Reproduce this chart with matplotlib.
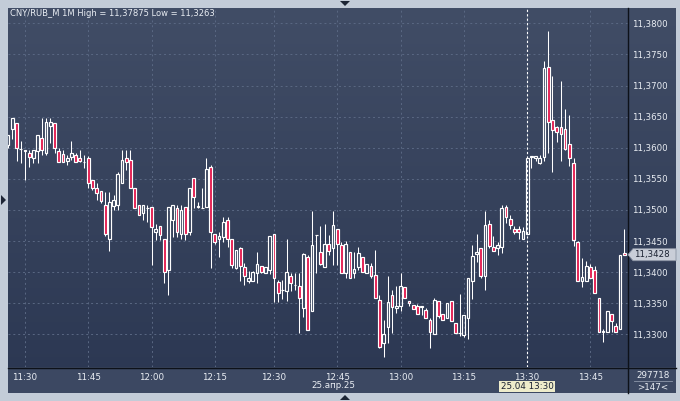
import numpy as np
import matplotlib.pyplot as plt
from matplotlib.patches import Rectangle, Polygon
from matplotlib.lines import Line2D
from matplotlib.colors import LinearSegmentedColormap

# 1-minute candles, CNY/RUB_M, 25.04.25 (first one is clipped at the left edge)
opens = [11.3604, 11.3630, 11.3639, 11.3598, 11.3594, 11.3591, 11.3583, 11.3594, 11.3615, 11.3591,
         11.3635, 11.3639, 11.3594, 11.3590, 11.3579, 11.3585, 11.3588, 11.3583, 11.3577, 11.3583,
         11.3548, 11.3535, 11.3530, 11.3508, 11.3453, 11.3506, 11.3508, 11.3543, 11.3584, 11.3580,
         11.3536, 11.3508, 11.3495, 11.3503, 11.3504, 11.3465, 11.3474, 11.3454, 11.3403, 11.3484,
         11.3503, 11.3462, 11.3505, 11.3465, 11.3552, 11.3504, 11.3503, 11.3504, 11.3569, 11.3462,
         11.3453, 11.3456, 11.3484, 11.3453, 11.3406, 11.3438, 11.3409, 11.3386, 11.3385, 11.3399,
         11.3410, 11.3399, 11.3403, 11.3462, 11.3384, 11.3371, 11.3370, 11.3394, 11.3379, 11.3377,
         11.3343, 11.3424, 11.3338, 11.3459, 11.3432, 11.3408, 11.3445, 11.3438, 11.3470, 11.3444,
         11.3398, 11.3432, 11.3398, 11.3408, 11.3425, 11.3399, 11.3410, 11.3395, 11.3355, 11.3286,
         11.3312, 11.3363, 11.3343, 11.3346, 11.3376, 11.3354, 11.3347, 11.3346, 11.3344, 11.3339,
         11.3323, 11.3301, 11.3354, 11.3333, 11.3327, 11.3354, 11.3318, 11.3302, 11.3299, 11.3327,
         11.3386, 11.3429, 11.3438, 11.3393, 11.3477, 11.3440, 11.3438, 11.3440, 11.3504, 11.3485,
         11.3470, 11.3470, 11.3453, 11.3462, 11.3585, 11.3583, 11.3576, 11.3585, 11.3729, 11.3645,
         11.3633, 11.3633, 11.3630, 11.3606, 11.3575, 11.3448, 11.3385, 11.3386, 11.3408, 11.3403,
         11.3358, 11.3303, 11.3304, 11.3333, 11.3313, 11.3308, 11.3431]
highs = [11.3621, 11.3647, 11.3639, 11.3611, 11.3597, 11.3597, 11.3597, 11.3620, 11.3647, 11.3647,
         11.3647, 11.3639, 11.3599, 11.3597, 11.3588, 11.3611, 11.3591, 11.3597, 11.3588, 11.3586,
         11.3548, 11.3543, 11.3530, 11.3529, 11.3529, 11.3524, 11.3561, 11.3597, 11.3596, 11.3597,
         11.3536, 11.3508, 11.3508, 11.3508, 11.3504, 11.3478, 11.3474, 11.3454, 11.3505, 11.3508,
         11.3508, 11.3508, 11.3505, 11.3536, 11.3552, 11.3513, 11.3535, 11.3583, 11.3572, 11.3462,
         11.3465, 11.3488, 11.3489, 11.3453, 11.3436, 11.3440, 11.3415, 11.3402, 11.3402, 11.3433,
         11.3410, 11.3409, 11.3458, 11.3462, 11.3387, 11.3387, 11.3453, 11.3398, 11.3398, 11.3399,
         11.3431, 11.3428, 11.3499, 11.3459, 11.3474, 11.3477, 11.3460, 11.3499, 11.3470, 11.3449,
         11.3450, 11.3432, 11.3433, 11.3440, 11.3425, 11.3413, 11.3415, 11.3436, 11.3363, 11.3323,
         11.3394, 11.3371, 11.3377, 11.3398, 11.3376, 11.3354, 11.3347, 11.3348, 11.3346, 11.3342,
         11.3326, 11.3358, 11.3354, 11.3333, 11.3350, 11.3354, 11.3318, 11.3365, 11.3331, 11.3390,
         11.3444, 11.3462, 11.3438, 11.3498, 11.3484, 11.3458, 11.3449, 11.3508, 11.3508, 11.3492,
         11.3474, 11.3474, 11.3472, 11.3583, 11.3587, 11.3587, 11.3588, 11.3739, 11.37875, 11.3715,
         11.3635, 11.3707, 11.3662, 11.3653, 11.3583, 11.3450, 11.3422, 11.3418, 11.3413, 11.3410,
         11.3358, 11.3309, 11.3338, 11.3333, 11.3318, 11.3428, 11.3470]
lows = [11.3599, 11.3614, 11.3579, 11.3576, 11.3548, 11.3569, 11.3576, 11.3576, 11.3588, 11.3588,
        11.3607, 11.3591, 11.3577, 11.3577, 11.3573, 11.3580, 11.3577, 11.3577, 11.3568, 11.3536,
        11.3532, 11.3516, 11.3511, 11.3458, 11.3434, 11.3500, 11.3500, 11.3543, 11.3564, 11.3535,
        11.3503, 11.3492, 11.3483, 11.3481, 11.3411, 11.3452, 11.3452, 11.3383, 11.3363, 11.3457,
        11.3457, 11.3454, 11.3452, 11.3460, 11.3503, 11.3503, 11.3503, 11.3504, 11.3406, 11.3445,
        11.3425, 11.3449, 11.3441, 11.3407, 11.3405, 11.3385, 11.3379, 11.3383, 11.3385, 11.3383,
        11.3399, 11.3398, 11.3397, 11.3352, 11.3352, 11.3356, 11.3354, 11.3370, 11.3372, 11.3302,
        11.3328, 11.3307, 11.3338, 11.3398, 11.3411, 11.3408, 11.3428, 11.3411, 11.3411, 11.3399,
        11.3390, 11.3390, 11.3390, 11.3403, 11.3401, 11.3399, 11.3390, 11.3358, 11.3278, 11.3263,
        11.3286, 11.3302, 11.3335, 11.3338, 11.3358, 11.3346, 11.3340, 11.3333, 11.3331, 11.3327,
        11.3278, 11.3301, 11.3326, 11.3323, 11.3326, 11.3322, 11.3302, 11.3298, 11.3296, 11.3292,
        11.3357, 11.3417, 11.3390, 11.3371, 11.3438, 11.3434, 11.3428, 11.3431, 11.3479, 11.3470,
        11.3462, 11.3453, 11.3453, 11.3462, 11.3567, 11.3579, 11.3574, 11.3579, 11.3592, 11.3561,
        11.3610, 11.3579, 11.3596, 11.3571, 11.3442, 11.3386, 11.3376, 11.3386, 11.3390, 11.3367,
        11.3303, 11.3287, 11.3304, 11.3303, 11.3303, 11.3308, 11.3428]
closes = [11.3621, 11.3647, 11.3599, 11.3598, 11.3597, 11.3585, 11.3597, 11.3620, 11.3597, 11.3642,
          11.3642, 11.3599, 11.3577, 11.3577, 11.3583, 11.3591, 11.3577, 11.3579, 11.3577, 11.3543,
          11.3536, 11.3528, 11.3515, 11.3461, 11.3512, 11.3516, 11.3558, 11.3580, 11.3577, 11.3535,
          11.3503, 11.3492, 11.3508, 11.3503, 11.3473, 11.3470, 11.3460, 11.3401, 11.3505, 11.3508,
          11.3465, 11.3500, 11.3462, 11.3536, 11.3520, 11.3506, 11.3503, 11.3566, 11.3465, 11.3449,
          11.3458, 11.3481, 11.3454, 11.3411, 11.3436, 11.3410, 11.3394, 11.3390, 11.3401, 11.3413,
          11.3401, 11.3409, 11.3458, 11.3390, 11.3367, 11.3371, 11.3401, 11.3383, 11.3379, 11.3358,
          11.3429, 11.3307, 11.3444, 11.3459, 11.3413, 11.3446, 11.3434, 11.3476, 11.3445, 11.3399,
          11.3445, 11.3390, 11.3405, 11.3430, 11.3401, 11.3413, 11.3394, 11.3358, 11.3280, 11.3301,
          11.3352, 11.3344, 11.3346, 11.3378, 11.3358, 11.3350, 11.3340, 11.3333, 11.3345, 11.3327,
          11.3304, 11.3355, 11.3330, 11.3323, 11.3350, 11.3322, 11.3302, 11.3302, 11.3331, 11.3390,
          11.3426, 11.3432, 11.3394, 11.3476, 11.3442, 11.3434, 11.3444, 11.3503, 11.3488, 11.3475,
          11.3465, 11.3465, 11.3466, 11.3583, 11.3587, 11.3587, 11.3583, 11.3728, 11.3642, 11.3628,
          11.3625, 11.3622, 11.3598, 11.3583, 11.3452, 11.3386, 11.3392, 11.3410, 11.3390, 11.3367,
          11.3303, 11.3306, 11.3338, 11.3322, 11.3303, 11.3428, 11.3428]

time_labels = ['11:30', '11:45', '12:00', '12:15', '12:30', '12:45', '13:00', '13:15', '13:30', '13:45']
time_idx = [4, 19, 34, 49, 63, 78, 93, 108, 123, 138]   # bar index of each label (12:2x has a gap)
price_ticks = [11.330, 11.335, 11.340, 11.345, 11.350, 11.355, 11.360, 11.365, 11.370, 11.375, 11.380]
last_price = 11.3428
cursor_idx = 123
cursor_label = '25.04 13:30'
date_label = '25.апр.25'
title = 'CNY/RUB_M 1M High = 11,37875 Low = 11,3263'
volume_label = '297718'
bars_label = '>147<'

W, H = 680, 401
TXT = '#e9edf3'


def px(x0, y0, x1, y1):
    # pixel box (top-left origin) -> figure rect
    return [x0 / W, 1 - y1 / H, (x1 - x0) / W, (y1 - y0) / H]


def fpt(x, y):
    return x / W, 1 - y / H


fig = plt.figure(figsize=(W / 100, H / 100), dpi=100)
fig.patch.set_facecolor('#c3ccd8')

# dark window with vertical gradient
bg = fig.add_axes(px(8, 8, 676, 393))
bg.set_zorder(0)
cmap = LinearSegmentedColormap.from_list('bg', ['#414d66', '#2b3752'])
bg.imshow(np.linspace(0, 1, 256)[:, None], aspect='auto', cmap=cmap, extent=[0, 1, 0, 1])
bg.axis('off')

# bottom time strip
fig.add_artist(Rectangle(fpt(8, 393), 668 / W, 26 / H, transform=fig.transFigure,
                         facecolor='#3c4862', edgecolor='none', zorder=1))

ax = fig.add_axes(px(8, 8, 628, 367))
ax.set_zorder(2)
ax.patch.set_alpha(0)
for s in ax.spines.values():
    s.set_visible(False)

x = np.arange(len(opens))
o, h, l, c = map(np.array, (opens, highs, lows, closes))
up = c >= o
lo_b = np.minimum(o, c)
hi_b = np.maximum(o, c)
ax.vlines(x, hi_b, h, color='white', linewidth=0.75, zorder=3)
ax.vlines(x, l, lo_b, color='white', linewidth=0.75, zorder=3)
ax.bar(x, hi_b - lo_b, bottom=lo_b, width=0.65,
       color=['none' if u else '#e3174b' for u in up],
       edgecolor='white', linewidth=0.85, zorder=4)

ax.set_xlim(-0.02, 146.9)
ax.set_ylim(11.38375 - 367 / 6220, 11.38375 - 8 / 6220)

ax.set_xticks(time_idx)
ax.set_xticklabels(time_labels)
ax.yaxis.tick_right()
ax.set_yticks(price_ticks)
ax.set_yticklabels([f'{v:.4f}'.replace('.', ',') for v in price_ticks])
ax.tick_params(axis='x', length=0, pad=4.0, labelsize=6.3, labelcolor=TXT)
ax.tick_params(axis='y', length=0, pad=2.8, labelsize=6.2, labelcolor=TXT)
for t in ax.get_yticklabels():
    t.set_horizontalalignment('left')
ax.grid(True, color='#5a6883', linestyle=(0, (2, 3)), linewidth=0.7, zorder=0)

ax.axvline(cursor_idx, color='white', linestyle=(0, (2, 2)), linewidth=0.8, zorder=5)

fig.text(*fpt(10, 13.5), title, color=TXT, fontsize=6.0, va='center', ha='left', zorder=5)

# separators
fig.add_artist(Line2D([628 / W, 628 / W], [1 - 8 / H, 1 - 393 / H], color='#0d1119', lw=1.0, zorder=3))
fig.add_artist(Line2D([8 / W, 676 / W], [1 - 367.5 / H, 1 - 367.5 / H], color='#0d1119', lw=1.0, zorder=3))

# last price tag
yl = (11.38375 - last_price) * 6220
tag = [(628, yl), (633, yl - 6), (676, yl - 6), (676, yl + 6), (633, yl + 6)]
fig.add_artist(Polygon([fpt(a, b) for a, b in tag], closed=True, transform=fig.transFigure,
                       facecolor='#c9ced8', edgecolor='#8a93a3', lw=0.6, zorder=4))
fig.text(*fpt(634, yl), f'{last_price:.4f}'.replace('.', ','), color='#1b2232',
         fontsize=6.2, va='center', ha='left', zorder=5)

# bottom labels
fig.text(*fpt(333, 386), date_label, color=TXT, fontsize=6.3, va='center', ha='center', zorder=5)
fig.text(*fpt(527, 386.5), cursor_label, color='#1b2232', fontsize=6.3, va='center', ha='center',
         zorder=5, bbox=dict(boxstyle='square,pad=0.15', facecolor='#eeeccb', edgecolor='none'))
fig.text(*fpt(653, 375), volume_label, color=TXT, fontsize=6.3, va='center', ha='center', zorder=5)
fig.add_artist(Line2D([634 / W, 672 / W], [1 - 381 / H, 1 - 381 / H], color='#8e98aa', lw=0.6, zorder=4))
fig.text(*fpt(653, 387), bars_label, color=TXT, fontsize=6.3, va='center', ha='center', zorder=5)

# little scroll markers on the frame
for pts in ([(340, 1), (350, 1), (345, 6)], [(340, 400), (350, 400), (345, 395)],
            [(1, 195), (1, 205), (6, 200)]):
    fig.add_artist(Polygon([fpt(a, b) for a, b in pts], closed=True, transform=fig.transFigure,
                           facecolor='#1d2535', edgecolor='none', zorder=4))

fig.savefig('out.png', dpi=100, facecolor=fig.get_facecolor())
